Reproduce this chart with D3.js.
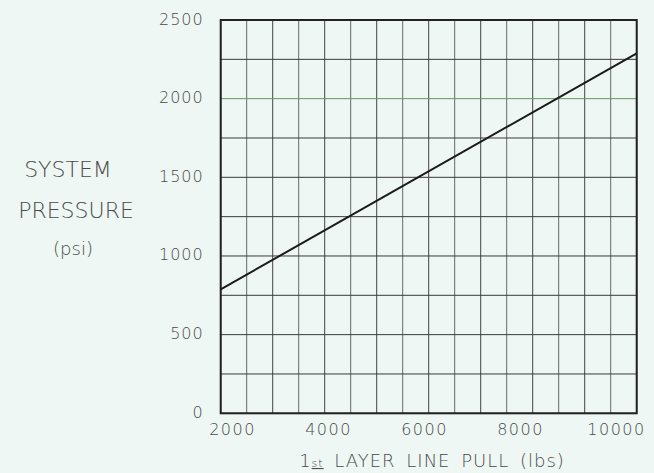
<!DOCTYPE html>
<html>
<head>
<meta charset="utf-8">
<script src="https://cdn.jsdelivr.net/npm/d3@7"></script>
<style>
  html, body { margin: 0; padding: 0; background: #eef7f3; }
  svg { display: block; }
  text { font-family: "DejaVu Sans", sans-serif; font-weight: 200; fill: #4a4a4a; }
</style>
</head>
<body>
<svg id="chart"></svg>
<script>
// line pull (lbs) vs system pressure (psi)
const pull = [2000, 10000];
const pressure = [788, 2288];
const xTicks = [2000, 4000, 6000, 8000, 10000];
const yTicks = [0, 500, 1000, 1500, 2000, 2500];
const xGrid = d3.range(2000, 10001, 500);
const yGrid = d3.range(0, 2501, 250);
const yTitle = ["SYSTEM", "PRESSURE", "(psi)"];

function main() {
  const width = 654;
  const height = 473;
  const margin = {top: 20, right: 17.3, bottom: 59.7, left: 220.7};

  const svg = d3.select("#chart")
    .attr("width", width)
    .attr("height", height);

  const x = d3.scaleLinear().domain([2000, 10000]).range([margin.left, width - margin.right]);
  const y = d3.scaleLinear().domain([0, 2500]).range([height - margin.bottom, margin.top]);
  // the printed x labels drift from the grid, so they get their own axis
  const xLabel = d3.scaleLinear().domain([2000, 10000]).range([232, 616]);

  renderGrid(svg, x, y);
  renderLine(svg, x, y);
  renderAxes(svg, x, y, xLabel, height - margin.bottom);
  renderTitles(svg);
}

function renderGrid(svg, x, y) {
  const g = svg.append("g").attr("stroke", "#3a3a3a").attr("stroke-width", 1);

  g.selectAll(".vx")
    .data(xGrid)
    .join("line")
    .attr("x1", d => x(d)).attr("x2", d => x(d))
    .attr("y1", y(0)).attr("y2", y(2500))
    .attr("stroke-opacity", (d, i) => i % 2 ? 0.75 : 0.95);

  g.selectAll(".hy")
    .data(yGrid)
    .join("line")
    .attr("x1", x(2000)).attr("x2", x(10000))
    .attr("y1", d => y(d)).attr("y2", d => y(d))
    .attr("stroke", d => d === 2000 ? "#5f9a5c" : null);

  svg.append("rect")
    .attr("x", x(2000)).attr("y", y(2500))
    .attr("width", x(10000) - x(2000))
    .attr("height", y(0) - y(2500))
    .attr("fill", "none")
    .attr("stroke", "#222")
    .attr("stroke-width", 2);
}

function renderLine(svg, x, y) {
  const line = d3.line().x(d => x(d[0])).y(d => y(d[1]));
  svg.append("path")
    .datum(d3.zip(pull, pressure))
    .attr("d", line)
    .attr("fill", "none")
    .attr("stroke", "#1a1a1a")
    .attr("stroke-width", 2);
}

function renderAxes(svg, x, y, xLabel, bottom) {
  const yAxis = svg.append("g")
    .attr("transform", `translate(${x(2000) - 17},0)`)
    .call(d3.axisLeft(y).tickValues(yTicks).tickSize(0).tickPadding(0).tickFormat(d3.format("d")));
  yAxis.select(".domain").remove();
  yAxis.selectAll("text")
    .attr("font-size", 16)
    .attr("letter-spacing", 1)
    .attr("dy", "0.25em");

  const xAxis = svg.append("g")
    .attr("transform", `translate(0,${bottom})`)
    .call(d3.axisBottom(xLabel).tickValues(xTicks).tickSize(0).tickPadding(10).tickFormat(d3.format("d")));
  xAxis.select(".domain").remove();
  xAxis.selectAll("text")
    .attr("font-size", 16)
    .attr("letter-spacing", 1.5);
}

function renderTitles(svg) {
  const t = svg.append("text")
    .attr("x", 432)
    .attr("y", 467)
    .attr("text-anchor", "middle")
    .attr("font-size", 18)
    .attr("letter-spacing", 1)
    .attr("word-spacing", 4);
  t.append("tspan").text("1");
  t.append("tspan").attr("font-size", 11).attr("text-decoration", "underline").text("st");
  t.append("tspan").text(" LAYER LINE PULL (lbs)");

  svg.append("g")
    .selectAll("text")
    .data(yTitle)
    .join("text")
    .attr("x", (d, i) => [68, 76, 73][i])
    .attr("y", (d, i) => [177, 218, 255][i])
    .attr("text-anchor", "middle")
    .attr("font-size", (d, i) => i === 2 ? 18 : 22)
    .text(d => d);
}

main();
</script>
</body>
</html>
